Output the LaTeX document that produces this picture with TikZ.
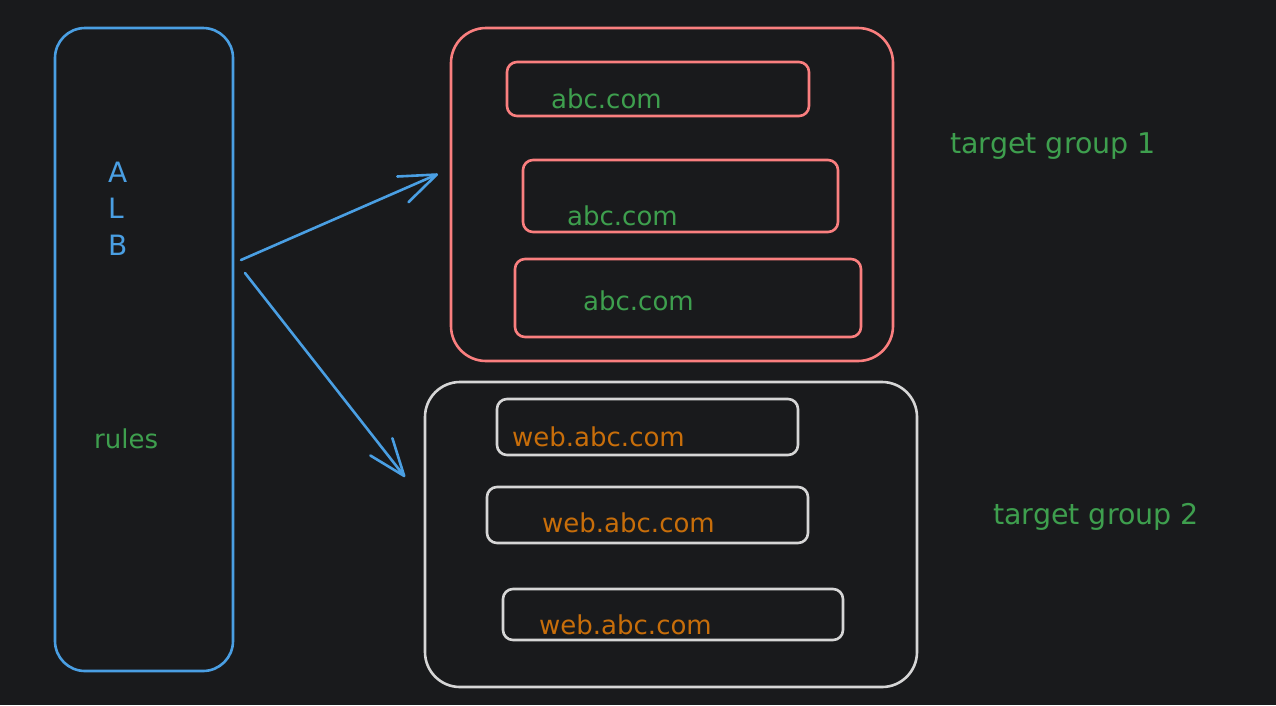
\documentclass[tikz,border=0pt]{standalone}
\usepackage{fontspec}
\setmainfont{DejaVu Sans}
\usetikzlibrary{arrows.meta,calc}
\definecolor{lbback}{HTML}{191A1C}
\definecolor{lbblue}{HTML}{4A9FE3}
\definecolor{lbred}{HTML}{FA7F7F}
\definecolor{lbgray}{HTML}{D6D6D6}
\definecolor{lbgreen}{HTML}{3E9F4E}
\definecolor{lborange}{HTML}{C86E0A}
\tikzset{
 lb alb/.style={draw=lbblue,line width=2.6pt,rounded corners=30pt,
                inner sep=0pt,minimum width=178pt,minimum height=643pt},
 lb group/.style={line width=2.6pt,rounded corners=35pt,inner sep=0pt},
 lb target/.style={line width=2.6pt,rounded corners=10pt,inner sep=0pt},
 lb text/.style={inner sep=0pt,anchor=base west,
                 font=\fontsize{26}{30}\selectfont},
 lb letter/.style={lb text,text=lbblue,font=\fontsize{28}{32}\selectfont},
 lb arrow/.style={draw=lbblue,line width=2.6pt,line cap=round,
                  -{Straight Barb[length=37pt,width=28pt,line width=2.6pt,round]}}
}
\begin{document}
\begin{tikzpicture}[x=1pt,y=-1pt]
 \fill[lbback] (0,0) rectangle (1276,705);
 \useasboundingbox (0,0) rectangle (1276,705);
 % load balancer
 \node[lb alb] (alb) at (144,349.5) {};
 \node[lb letter] (albA) at (108,182) {A};
 \node[lb letter] (albL) at (108,218) {L};
 \node[lb letter] (albB) at (108,255) {B};
 \node[lb text,text=lbgreen] (rules) at (94,448) {rules};
 % target group 1
 \node[lb group,draw=lbred,minimum width=442pt,minimum height=333pt]
   (tg1) at (672,194.5) {};
 \foreach \i/\x/\y/\w/\h/\tx/\ty in {1/658/89/302/54/551/108,
     2/680.5/196/315/72/567/225,3/688/298/346/78/583/310}{
   \node[lb target,draw=lbred,minimum width=\w pt,minimum height=\h pt]
     (abc\i) at (\x,\y) {};
   \node[lb text,text=lbgreen] (abctext\i) at (\tx,\ty) {abc.com};
 }
 \node[lb text,text=lbgreen,font=\fontsize{28.5}{32}\selectfont]
   (tg1label) at (950,153) {target group 1};
 % target group 2
 \node[lb group,draw=lbgray,minimum width=492pt,minimum height=305pt]
   (tg2) at (671,534.5) {};
 \foreach \i/\x/\y/\w/\h/\tx/\ty in {1/647.5/427/301/56/512/446,
     2/647.5/515/321/56/542/532,3/673/614.5/340/51/539/634}{
   \node[lb target,draw=lbgray,minimum width=\w pt,minimum height=\h pt]
     (web\i) at (\x,\y) {};
   \node[lb text,text=lborange] (webtext\i) at (\tx,\ty) {web.abc.com};
 }
 \node[lb text,text=lbgreen,font=\fontsize{28.5}{32}\selectfont]
   (tg2label) at (993,524) {target group 2};
 % routing
 \coordinate (albout1) at (241,260);
 \coordinate (albout2) at (245,273);
 \coordinate (tg1in) at (438,174);
 \coordinate (tg2in) at (405,477);
 \draw[lb arrow] (albout1) -- (tg1in);
 \draw[lb arrow] (albout2) -- (tg2in);
\end{tikzpicture}
\end{document}
